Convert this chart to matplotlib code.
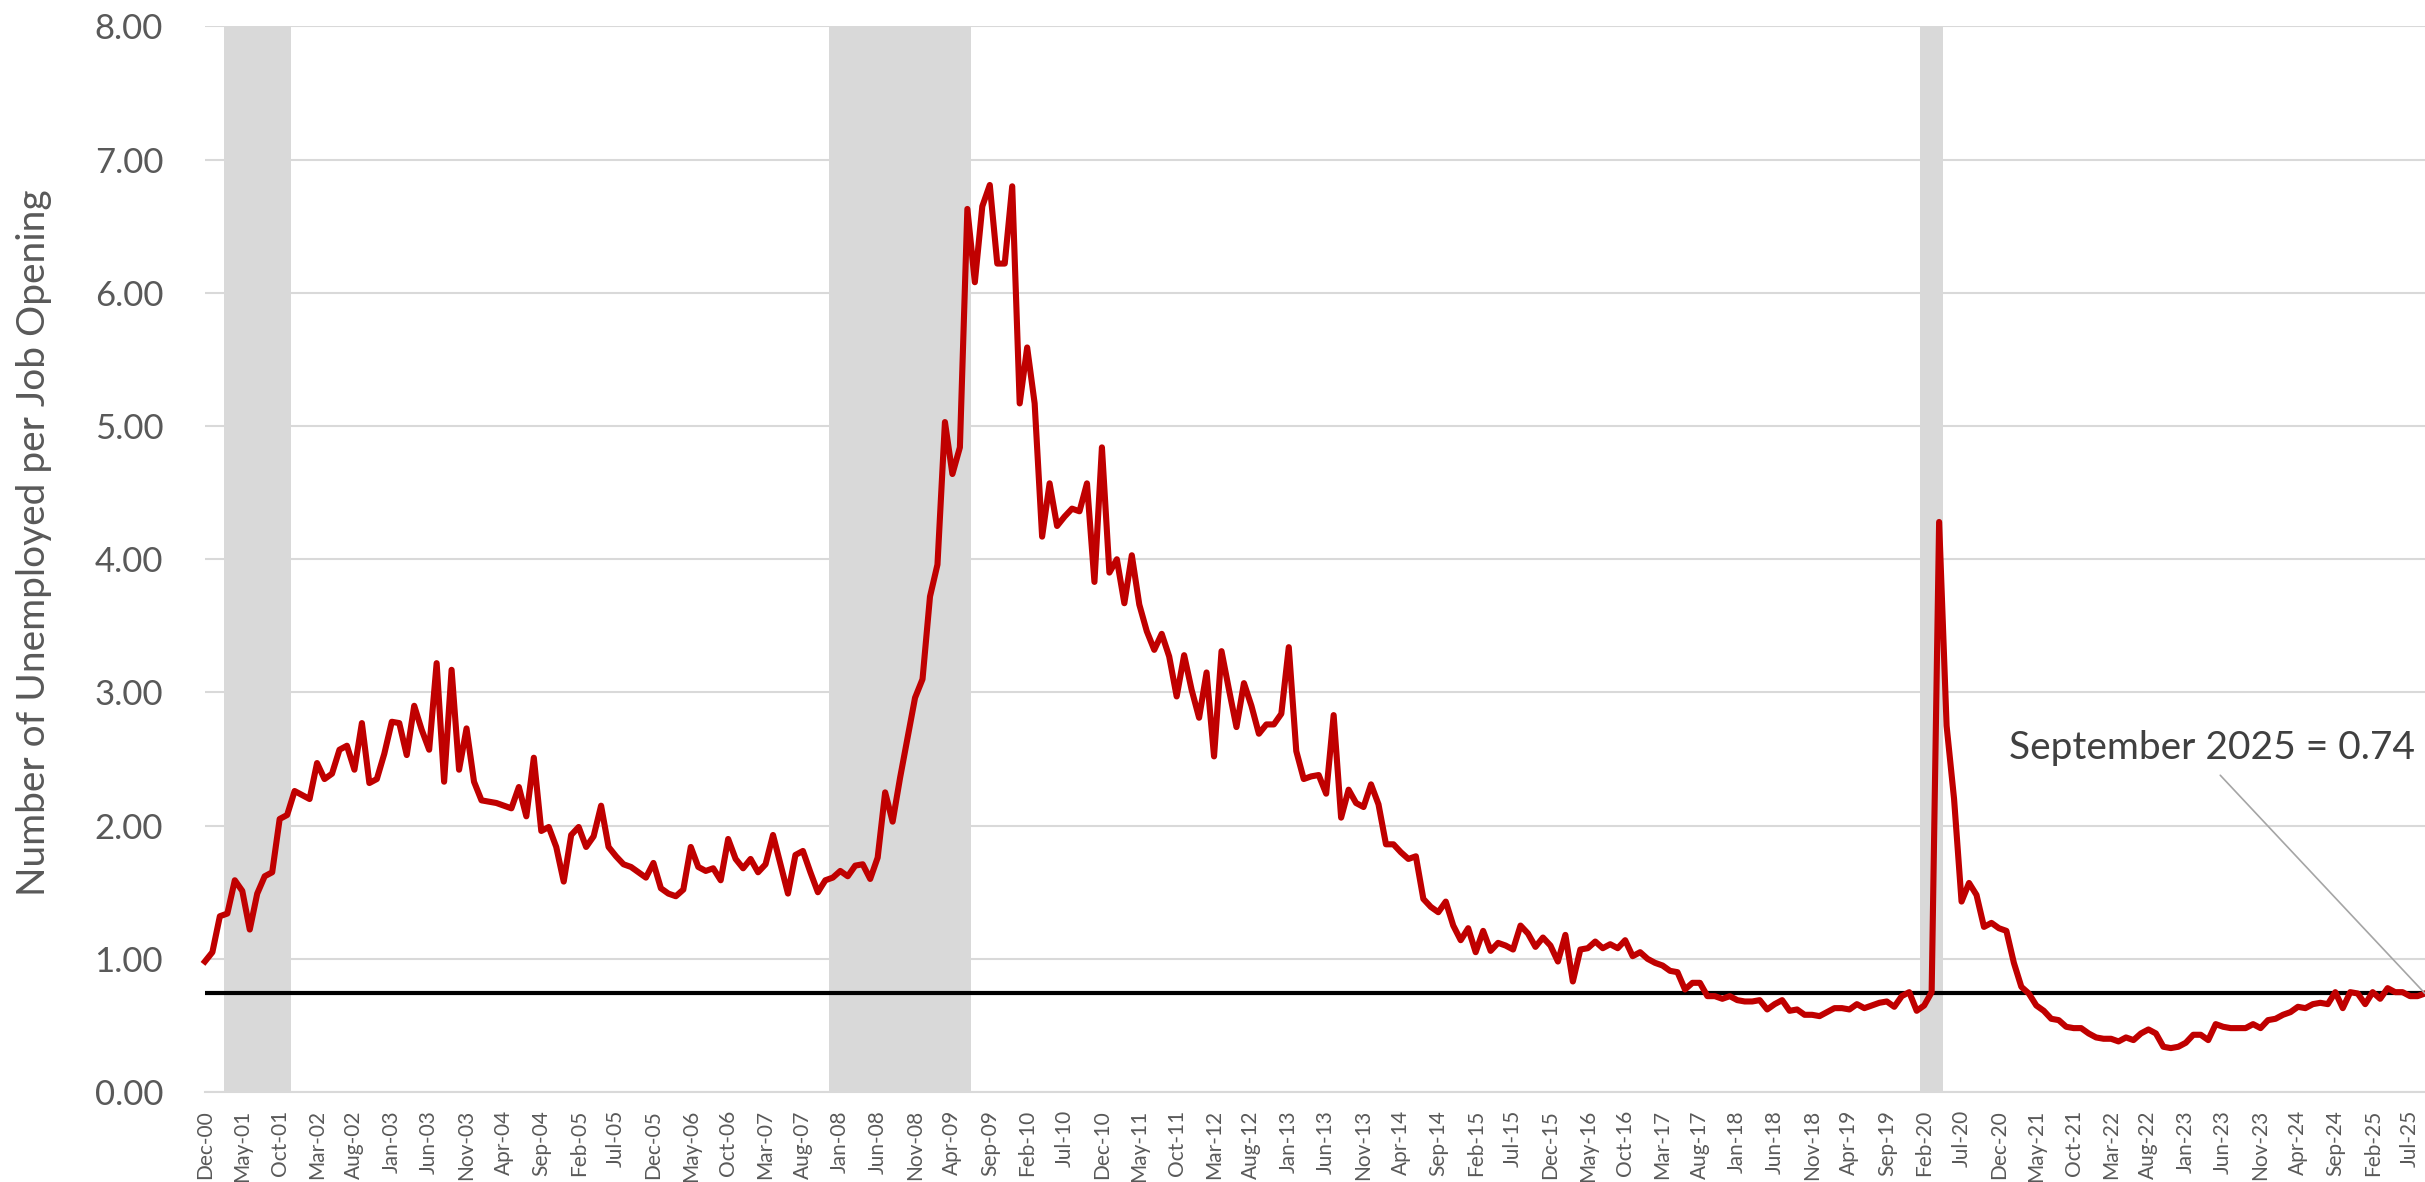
import numpy as np
import pandas as pd
import matplotlib
matplotlib.use("Agg")
import matplotlib.pyplot as plt

plt.rcParams['font.family'] = ['Lato', 'DejaVu Sans']

# unemployed per job opening, monthly Dec-00 .. Sep-25
ratio = [
    0.98, 1.05, 1.32, 1.34, 1.59, 1.51, 1.22, 1.49, 1.62, 1.65,
    2.05, 2.08, 2.26, 2.23, 2.20, 2.47, 2.35, 2.39, 2.57, 2.60,
    2.42, 2.77, 2.32, 2.35, 2.54, 2.78, 2.77, 2.53, 2.90, 2.72,
    2.57, 3.22, 2.33, 3.17, 2.42, 2.73, 2.33, 2.19, 2.18, 2.17,
    2.15, 2.13, 2.29, 2.07, 2.51, 1.96, 1.99, 1.84, 1.58, 1.93,
    1.99, 1.84, 1.92, 2.15, 1.84, 1.77, 1.71, 1.69, 1.65, 1.61,
    1.72, 1.53, 1.49, 1.47, 1.52, 1.84, 1.69, 1.66, 1.68, 1.59,
    1.90, 1.75, 1.68, 1.75, 1.65, 1.71, 1.93, 1.71, 1.49, 1.78,
    1.81, 1.65, 1.50, 1.59, 1.61, 1.66, 1.62, 1.70, 1.71, 1.60,
    1.76, 2.25, 2.03, 2.36, 2.66, 2.96, 3.10, 3.72, 3.96, 5.03,
    4.64, 4.84, 6.63, 6.08, 6.65, 6.81, 6.22, 6.22, 6.80, 5.17,
    5.59, 5.17, 4.17, 4.57, 4.25, 4.32, 4.38, 4.36, 4.57, 3.83,
    4.84, 3.90, 4.00, 3.67, 4.03, 3.66, 3.46, 3.32, 3.44, 3.27,
    2.97, 3.28, 3.02, 2.81, 3.15, 2.52, 3.31, 3.02, 2.74, 3.07,
    2.90, 2.69, 2.76, 2.76, 2.84, 3.34, 2.56, 2.35, 2.37, 2.38,
    2.24, 2.83, 2.06, 2.27, 2.17, 2.14, 2.31, 2.16, 1.86, 1.86,
    1.80, 1.75, 1.77, 1.45, 1.39, 1.35, 1.43, 1.25, 1.14, 1.23,
    1.05, 1.21, 1.06, 1.12, 1.10, 1.07, 1.25, 1.19, 1.09, 1.16,
    1.10, 0.98, 1.18, 0.83, 1.07, 1.08, 1.13, 1.08, 1.11, 1.08,
    1.14, 1.02, 1.05, 1.00, 0.97, 0.95, 0.91, 0.90, 0.77, 0.82,
    0.82, 0.72, 0.72, 0.70, 0.72, 0.69, 0.68, 0.68, 0.69, 0.62,
    0.66, 0.69, 0.61, 0.62, 0.58, 0.58, 0.57, 0.60, 0.63, 0.63,
    0.62, 0.66, 0.63, 0.65, 0.67, 0.68, 0.64, 0.72, 0.75, 0.61,
    0.65, 0.75, 4.28, 2.75, 2.20, 1.43, 1.57, 1.48, 1.24, 1.27,
    1.23, 1.21, 0.97, 0.79, 0.74, 0.65, 0.61, 0.55, 0.54, 0.49,
    0.48, 0.48, 0.44, 0.41, 0.40, 0.40, 0.38, 0.41, 0.39, 0.44,
    0.47, 0.44, 0.34, 0.33, 0.34, 0.37, 0.43, 0.43, 0.39, 0.51,
    0.49, 0.48, 0.48, 0.48, 0.51, 0.48, 0.54, 0.55, 0.58, 0.60,
    0.64, 0.63, 0.66, 0.67, 0.66, 0.75, 0.63, 0.75, 0.74, 0.66,
    0.75, 0.70, 0.78, 0.75, 0.75, 0.72, 0.72, 0.74,
]

months = pd.date_range('2000-12-01', periods=len(ratio), freq='MS')
month_labels = [m.strftime('%b-%y') for m in months]

# recessions (first month, last month)
recessions = [('2001-03', '2001-11'), ('2007-12', '2009-06'), ('2020-02', '2020-04')]

latest = ratio[-1]
note = "September 2025 = 0.74"

#%% plot
x = np.arange(len(ratio))
grey = '#595959'

fig = plt.figure(figsize=(24.25, 11.82), dpi=100)
ax = fig.add_axes([0.0845, 0.0761, 0.9155, 0.9015])

for start, end in recessions:
    i0 = months.get_loc(pd.Timestamp(start + '-01'))
    i1 = months.get_loc(pd.Timestamp(end + '-01'))
    ax.axvspan(i0 - 0.5, i1 + 0.5, color='#D9D9D9', lw=0, zorder=1)

ax.axhline(latest, color='black', lw=3, zorder=2)
ax.plot(x, ratio, color='#C00000', lw=4.4, zorder=3, clip_on=False, solid_joinstyle='round')

ax.annotate(note, xy=(x[-1], latest), xytext=(268.5, 2.58), ha='center', va='center',
            fontsize=28, color='#404040',
            arrowprops=dict(arrowstyle='-', color='#A5A5A5', lw=1.2,
                            relpos=(0.5, 0), shrinkA=6, shrinkB=0))

ax.set_xlim(0, len(ratio) - 1)
ax.set_ylim(0, 8)
ax.set_yticks(np.arange(0, 9))
ax.set_yticklabels([f'{v:.2f}' for v in range(9)], fontsize=25, color=grey)
ax.set_xticks(x[::5])
ax.set_xticklabels(month_labels[::5], rotation=90, fontsize=15, color=grey)
ax.tick_params(axis='both', length=0)
ax.tick_params(axis='x', pad=13)
ax.tick_params(axis='y', pad=30)

ax.set_axisbelow(True)
ax.grid(axis='y', color='#D9D9D9', lw=1.5)
for s in ['top', 'right', 'left']:
    ax.spines[s].set_visible(False)
ax.spines['bottom'].set_color('#D9D9D9')
ax.spines['bottom'].set_linewidth(1.5)

ax.set_ylabel("Number of Unemployed per Job Opening", fontsize=28, color=grey)
ax.yaxis.set_label_coords(-0.069, 0.516)

plt.savefig("out.png", dpi=100)
